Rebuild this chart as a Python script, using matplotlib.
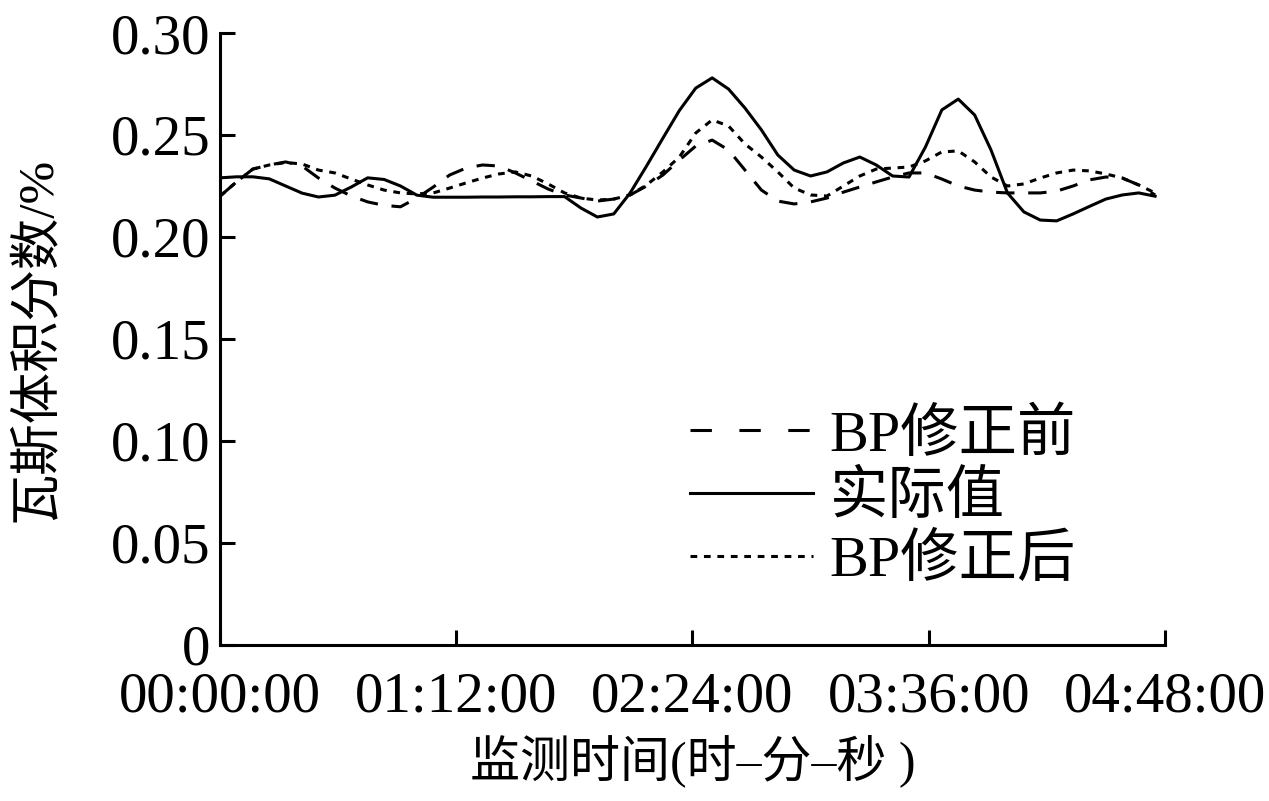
import matplotlib
matplotlib.use("Agg")
import matplotlib.pyplot as plt

plt.rcParams['font.family'] = ['Liberation Serif', 'Noto Sans CJK SC']
plt.rcParams['axes.unicode_minus'] = False

# 监测时间 (分钟), 每5分钟读一个点
minutes = list(range(0, 290, 5))

# 实际值
actual = [0.2290, 0.2295, 0.2295, 0.2285, 0.2250, 0.2215, 0.2196, 0.2205, 0.2245, 0.2290,
          0.2282, 0.2250, 0.2205, 0.2195, 0.2195, 0.2195, 0.2196, 0.2196, 0.2197, 0.2197,
          0.2198, 0.2198, 0.2142, 0.2098, 0.2113, 0.2216, 0.2348, 0.2485, 0.2620, 0.2730,
          0.2780, 0.2725, 0.2632, 0.2525, 0.2402, 0.2328, 0.2299, 0.2319, 0.2363, 0.2392,
          0.2353, 0.2299, 0.2294, 0.2441, 0.2623, 0.2676, 0.2598, 0.2426, 0.2216, 0.2123,
          0.2083, 0.2079, 0.2113, 0.2150, 0.2186, 0.2206, 0.2216, 0.2200]

# BP修正前
bp_before = [0.2200, 0.2270, 0.2333, 0.2353, 0.2368, 0.2348, 0.2289, 0.2240, 0.2201, 0.2172,
             0.2155, 0.2148, 0.2191, 0.2245, 0.2304, 0.2338, 0.2353, 0.2348, 0.2314, 0.2275,
             0.2235, 0.2206, 0.2191, 0.2176, 0.2186, 0.2206, 0.2250, 0.2304, 0.2377, 0.2446,
             0.2475, 0.2426, 0.2328, 0.2230, 0.2176, 0.2162, 0.2172, 0.2191, 0.2220, 0.2245,
             0.2270, 0.2294, 0.2314, 0.2314, 0.2284, 0.2250, 0.2230, 0.2220, 0.2216, 0.2216,
             0.2216, 0.2225, 0.2250, 0.2280, 0.2294, 0.2289, 0.2255, 0.2206]

# BP修正后
bp_after = [0.2200, 0.2270, 0.2333, 0.2353, 0.2365, 0.2358, 0.2328, 0.2314, 0.2284, 0.2255,
            0.2230, 0.2216, 0.2211, 0.2216, 0.2240, 0.2265, 0.2289, 0.2309, 0.2319, 0.2299,
            0.2260, 0.2216, 0.2191, 0.2181, 0.2186, 0.2206, 0.2255, 0.2319, 0.2392, 0.2510,
            0.2574, 0.2544, 0.2456, 0.2392, 0.2319, 0.2240, 0.2206, 0.2201, 0.2250, 0.2299,
            0.2333, 0.2338, 0.2343, 0.2373, 0.2417, 0.2422, 0.2368, 0.2294, 0.2250, 0.2260,
            0.2289, 0.2314, 0.2328, 0.2324, 0.2309, 0.2289, 0.2255, 0.2216]

xtick_pos = [0, 72, 144, 216, 288]
xtick_labels = ['00:00:00', '01:12:00', '02:24:00', '03:36:00', '04:48:00']
ytick_pos = [0, 0.05, 0.10, 0.15, 0.20, 0.25, 0.30]
ytick_labels = ['0', '0.05', '0.10', '0.15', '0.20', '0.25', '0.30']

fig = plt.figure(figsize=(12.69, 8.01), dpi=100)
ax = fig.add_axes([0.1734, 0.1948, 0.7446, 0.764])

lw = 2.2
ax.plot(minutes, bp_before, color='black', lw=lw, linestyle=(0, (6, 4.5)), label='BP修正前')
ax.plot(minutes, actual, color='black', lw=lw, linestyle='-', label='实际值')
ax.plot(minutes, bp_after, color='black', lw=lw, linestyle=(0, (2.2, 2.2)), label='BP修正后')

ax.set_xlim(0, 288)
ax.set_ylim(0, 0.30)
ax.set_xticks(xtick_pos)
ax.set_xticklabels(xtick_labels)
ax.set_yticks(ytick_pos)
ax.set_yticklabels(ytick_labels)

for s in ['top', 'right']:
    ax.spines[s].set_visible(False)
for s in ['left', 'bottom']:
    ax.spines[s].set_linewidth(2.2)

ax.tick_params(axis='both', direction='in', length=11, width=2.2, labelsize=41, colors='black')
ax.tick_params(axis='x', pad=19)
ax.tick_params(axis='y', pad=7)

ax.set_xlabel('监测时间(时–分–秒 )', fontsize=36, labelpad=8)
ax.set_ylabel('瓦斯体积分数/%', fontsize=37, labelpad=36)

leg = ax.legend(loc='upper left', bbox_to_anchor=(690 / 1269, 1 - 408 / 801),
                bbox_transform=fig.transFigure, frameon=False, fontsize=42,
                handlelength=2.1, handletextpad=0.29, labelspacing=0.15,
                borderpad=0, borderaxespad=0)
# 图例里的虚线画得稀一些
leg.get_lines()[0].set_linestyle((0, (7, 9)))

fig.savefig('out.png', dpi=100)
